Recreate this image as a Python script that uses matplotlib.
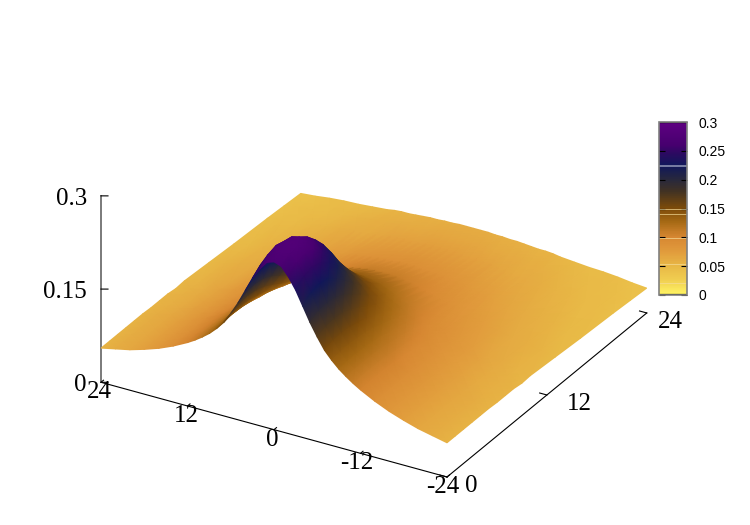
import matplotlib
matplotlib.use('Agg')
import numpy as np
import matplotlib.pyplot as plt
import matplotlib.tri as mtri
from matplotlib.colors import LinearSegmentedColormap
from mpl_toolkits.mplot3d import proj3d

plt.rcParams['font.family'] = ['Liberation Serif', 'DejaVu Serif']

# grid positions read along the two floor axes
x_half = [0, 1, 2, 3, 4, 5, 6, 7, 8, 9, 10, 11, 12, 14, 16, 18, 20, 22, 24]
y_vals = [0, 1, 2, 3, 4, 5, 6, 7, 8, 9, 10, 13, 16, 20, 22, 24]

# heights for the x_half columns (surface looks mirror symmetric about x=0)
z_half = [
    [.270, .266, .252, .234, .211, .188, .168, .150, .137, .126, .117, .109, .102, .090, .080, .072, .065, .060, .055],  # y=0
    [.277, .274, .264, .245, .222, .195, .173, .154, .139, .127, .118, .110, .103, .090, .080, .072, .065, .060, .055],  # y=1
    [.279, .277, .268, .249, .225, .197, .175, .155, .140, .128, .118, .110, .103, .090, .080, .072, .065, .060, .055],  # y=2
    [.277, .274, .264, .245, .222, .195, .173, .154, .139, .127, .118, .110, .103, .090, .080, .072, .065, .060, .055],  # y=3
    [.266, .262, .250, .234, .211, .188, .168, .150, .137, .126, .117, .109, .102, .090, .080, .072, .065, .060, .055],  # y=4
    [.250, .246, .235, .217, .197, .178, .160, .146, .134, .123, .115, .107, .100, .088, .079, .071, .065, .060, .055],  # y=5
    [.225, .222, .211, .197, .182, .167, .151, .139, .129, .119, .112, .105, .098, .087, .078, .071, .064, .059, .054],  # y=6
    [.197, .195, .188, .178, .167, .154, .143, .133, .124, .116, .109, .102, .096, .086, .077, .070, .063, .058, .054],  # y=7
    [.175, .173, .168, .160, .151, .143, .134, .126, .118, .112, .105, .100, .094, .084, .076, .069, .063, .058, .054],  # y=8
    [.155, .154, .150, .146, .139, .133, .126, .120, .113, .107, .101, .096, .091, .083, .075, .068, .062, .057, .052],  # y=9
    [.140, .139, .137, .134, .129, .124, .118, .113, .107, .103, .097, .092, .088, .080, .073, .066, .062, .056, .053],  # y=10
    [.110, .110, .109, .107, .105, .102, .099, .096, .092, .089, .085, .082, .079, .073, .067, .062, .059, .054, .050],  # y=13
    [.090, .090, .089, .088, .087, .086, .084, .083, .080, .077, .075, .073, .070, .066, .061, .058, .054, .050, .047],  # y=16
    [.072, .072, .072, .071, .070, .070, .069, .068, .066, .065, .063, .062, .061, .059, .055, .052, .049, .047, .044],  # y=20
    [.065, .065, .065, .065, .064, .063, .063, .062, .062, .060, .059, .059, .057, .054, .051, .049, .047, .045, .042],  # y=22
    [.060, .060, .060, .059, .059, .058, .058, .057, .056, .055, .055, .054, .052, .050, .048, .047, .045, .042, .040],  # y=24
]

x_ticks = [24, 12, 0, -12, -24]
y_ticks = [0, 12, 24]
z_ticks = [0, 0.15, 0.3]
z_tick_labels = ['0', '0.15', '0.3']
cb_ticks = [0, 0.05, 0.1, 0.15, 0.2, 0.25, 0.3]
cb_tick_labels = ['0', '0.05', '0.1', '0.15', '0.2', '0.25', '0.3']

# colours
cb_levels = [0, 0.026, 0.05, 0.075, 0.1, 0.127, 0.15, 0.18, 0.2, 0.225, 0.245, 0.26, 0.3]
cb_colors = ['#fff564', '#f0cd50', '#e8b846', '#e19b3c', '#d78732', '#a56914', '#7d4b0a',
             '#413223', '#28283c', '#10185a', '#2a0a60', '#46006e', '#5f0082']

cmap = LinearSegmentedColormap.from_list('gold_purple', [(v / 0.3, c) for v, c in zip(cb_levels, cb_colors)])

x_vals = [-v for v in x_half[:0:-1]] + x_half
X, Y = np.meshgrid(x_vals, y_vals)
Z = np.array([row[:0:-1] + row for row in z_half])

fig = plt.figure(figsize=(7.5, 5.25), dpi=100)
ax = fig.add_axes([0, 0, 0.7, 1], projection='3d', proj_type='ortho')
ax.view_init(elev=28.3, azim=-60)
ax.set_box_aspect((1, 1, 0.53))
ax.set_xlim(24, -24)
ax.set_ylim(0, 24)
ax.set_zlim(0, 0.3)
ax.set_axis_off()


def px(x, y, z):
    u, v, _ = proj3d.proj_transform(x, y, z, ax.get_proj())
    return ax.transData.transform((u, v))


# line the floor up with the reference: x axis from (101,383) to (447,477) in image pixels
fig.canvas.draw()
left, front = px(24, 0, 0), px(-24, 0, 0)
scale = 346 / (front[0] - left[0])
pos = ax.get_position()
side = max(pos.width * 750, pos.height * 525) * scale
ax.set_position([0, 0, side / 750, side / 525])
fig.canvas.draw()
front = px(-24, 0, 0)
ax.set_position([(447 - front[0]) / 750, ((525 - 477) - front[1]) / 525, side / 750, side / 525])
fig.canvas.draw()

# floor axes and z axis
ax.plot([24, -24], [0, 0], [0, 0], color='black', lw=0.8)
ax.plot([-24, -24], [0, 24], [0, 0], color='black', lw=0.8)
ax.plot([24, 24], [0, 0], [0, 0.3], color='#707070', lw=1.3)
for t in x_ticks:
    ax.plot([t, t], [0, 0.3], [0, 0], color='black', lw=0.8)
for t in y_ticks:
    ax.plot([-24, -23], [t, t], [0, 0], color='black', lw=0.8)
for t in z_ticks:
    ax.plot([24, 23.27], [0, 0.207], [t, t], color='black', lw=0.8)


def tick_text(x, y, z, s, dx, dy, ha='center'):
    u, v, _ = proj3d.proj_transform(x, y, z, ax.get_proj())
    ax.annotate(s, xy=(u, v), xytext=(dx * 0.72, dy * 0.72), textcoords='offset points',
                ha=ha, va='baseline', fontsize=18, color='black')


# dy is from the tick down to the text baseline
for t in x_ticks:
    tick_text(t, 0, 0, str(t), -1.5 if t >= 0 else -4, -16)
tick_text(-24, 0, 0, '0', 24, -15)
tick_text(-24, 12, 0, '12', 32, -15)
tick_text(-24, 24, 0, '24', 24, -15)
for t, s in zip(z_ticks, z_tick_labels):
    tick_text(24, 0, t, s, -14, -9, ha='right')

# surface: project the grid and let gouraud triangles shade it, back to front
u, v, w = proj3d.proj_transform(X.ravel(), Y.ravel(), Z.ravel(), ax.get_proj())
pts = ax.transData.transform(np.column_stack([u, v]))
nr, nc = X.shape
ids = np.arange(nr * nc).reshape(nr, nc)
tris = np.vstack([
    np.column_stack([ids[:-1, :-1].ravel(), ids[:-1, 1:].ravel(), ids[1:, 1:].ravel()]),
    np.column_stack([ids[:-1, :-1].ravel(), ids[1:, 1:].ravel(), ids[1:, :-1].ravel()]),
])
tris = tris[np.argsort(-np.asarray(w)[tris].mean(axis=1))]

ax2 = fig.add_axes([0, 0, 1, 1], zorder=2)
ax2.set_xlim(0, 750)
ax2.set_ylim(0, 525)
ax2.set_axis_off()
surf = ax2.tripcolor(mtri.Triangulation(pts[:, 0], pts[:, 1], tris), Z.ravel(), cmap=cmap,
                     vmin=0, vmax=0.3, shading='gouraud')

# colour bar
cax = fig.add_axes([659 / 750, (525 - 295) / 525, 28 / 750, 173 / 525], zorder=3)
cb = fig.colorbar(surf, cax=cax, ticks=cb_ticks)
cb.ax.set_yticklabels(cb_tick_labels, family=['Liberation Sans', 'DejaVu Sans'], fontsize=10)
cb.ax.tick_params(axis='y', direction='in', length=4, width=0.8, left=True, right=True, pad=8.5)
cb.outline.set_linewidth(1.2)
cb.outline.set_edgecolor('#808080')
cb.ax.axhline(0, color='black', lw=1.6)
cb.ax.axhline(0.3, color='black', lw=1.6)
cb.ax.axhline(0.224, color='#8a90b0', lw=1.2)
for b in [0.02, 0.053, 0.098, 0.14, 0.15]:
    cb.ax.axhline(b, color='#f5dc9a', lw=0.6, alpha=0.8)

fig.savefig('out.png', dpi=100)
